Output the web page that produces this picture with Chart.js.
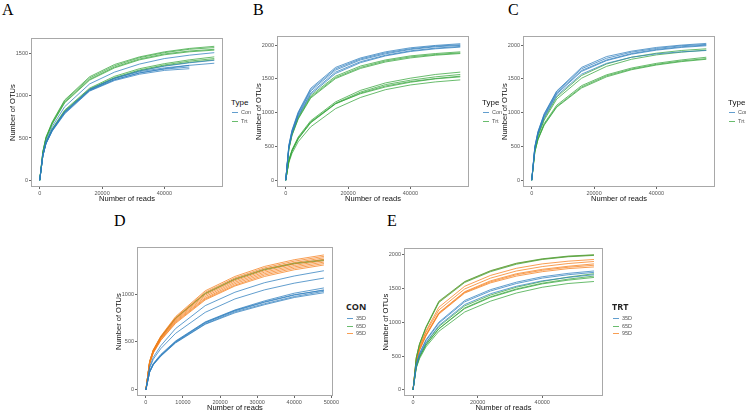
<!DOCTYPE html>
<html>
<head>
<meta charset="utf-8">
<script src="https://cdn.jsdelivr.net/npm/chart.js@4.4.1/dist/chart.umd.min.js"></script>
<style>
  body { margin: 0; background: #fff; }
  #fig { position: relative; width: 746px; height: 413px; overflow: hidden; font-family: "Liberation Sans", Arial, sans-serif; }
  #fig canvas { position: absolute; }
  .tag { position: absolute; font-family: "Liberation Serif", "Times New Roman", serif; font-size: 16px; line-height: 16px; color: #000; }
  .lg { position: absolute; white-space: nowrap; line-height: 8px; }
  .lg-title { font-size: 8px; color: #111; }
  .lg-bold { font-family: "Open Sans", "Liberation Sans", sans-serif; font-weight: bold; font-size: 9px; color: #222; }
  .lg-item { font-size: 5.5px; color: #555; }
  .key { position: absolute; width: 6px; height: 0; border-top: 1px solid; }
</style>
</head>
<body>
<div id="fig"></div>
<script>
// sampling depths of the rarefaction curves
const readDepths = [0, 1000, 2000, 4000, 8000, 16000, 24000, 32000, 40000, 48000, 56000];

// tick labels
const ticksX56 = [0, 20000, 40000];
const ticksX50 = [0, 10000, 20000, 30000, 40000, 50000];
const ticksY1500 = [0, 500, 1000, 1500];
const ticksY2000 = [0, 500, 1000, 1500, 2000];
const ticksY1000 = [0, 500, 1000];

// legend categories
const typeLabels = ['Con', 'Trt'];
const dayLabels = ['35D', '65D', '95D'];

// Panel A
const aCon = [
  [0, 310, 470, 635, 870, 1140, 1280, 1375, 1440, 1480, 1510],
  [0, 290, 435, 590, 800, 1060, 1190, 1270, 1320, 1360, 1385],
  [0, 295, 445, 600, 815, 1075, 1210, 1295, 1350, 1390, 1420],
  [0, 295, 440, 595, 805, 1075, 1205, 1285, 1330, 1360],
  [0, 290, 435, 585, 795, 1065, 1190, 1270, 1315, 1340],
  [0, 285, 430, 580, 785, 1055, 1180, 1255, 1300, 1320]
];
const aTrt = [
  [0, 340, 510, 690, 950, 1225, 1370, 1460, 1520, 1560, 1585],
  [0, 335, 505, 680, 940, 1210, 1355, 1450, 1510, 1550, 1570],
  [0, 330, 495, 670, 925, 1195, 1340, 1435, 1495, 1530, 1550],
  [0, 325, 490, 665, 915, 1185, 1330, 1425, 1485, 1520, 1540],
  [0, 300, 450, 610, 830, 1090, 1230, 1320, 1380, 1425, 1460],
  [0, 295, 445, 600, 820, 1080, 1215, 1305, 1365, 1410, 1440],
  [0, 290, 440, 595, 810, 1070, 1205, 1295, 1355, 1395, 1425]
];

// Panel B
const bCon = [
  [0, 520, 740, 1010, 1360, 1670, 1810, 1900, 1960, 1995, 2020],
  [0, 510, 730, 995, 1340, 1650, 1795, 1885, 1945, 1985, 2005],
  [0, 500, 720, 980, 1320, 1630, 1780, 1870, 1935, 1975, 1995],
  [0, 490, 700, 960, 1290, 1600, 1755, 1850, 1915, 1955, 1980],
  [0, 480, 690, 945, 1270, 1580, 1740, 1840, 1905, 1945, 1970]
];
const bTrt = [
  [0, 470, 680, 930, 1250, 1540, 1690, 1780, 1840, 1875, 1900],
  [0, 460, 670, 915, 1230, 1520, 1670, 1765, 1825, 1860, 1885],
  [0, 455, 660, 905, 1215, 1505, 1655, 1750, 1810, 1850, 1875],
  [0, 300, 450, 640, 880, 1160, 1330, 1440, 1510, 1565, 1600],
  [0, 290, 440, 625, 865, 1140, 1305, 1415, 1480, 1530, 1565],
  [0, 285, 432, 615, 855, 1135, 1280, 1380, 1450, 1500, 1530],
  [0, 280, 425, 610, 850, 1130, 1290, 1395, 1460, 1505, 1540],
  [0, 260, 395, 570, 790, 1060, 1225, 1340, 1410, 1455, 1485]
];

// Panel C
const cCon = [
  [0, 500, 720, 985, 1320, 1670, 1830, 1910, 1965, 2000, 2025],
  [0, 495, 715, 975, 1310, 1650, 1805, 1895, 1950, 1990, 2010],
  [0, 485, 700, 960, 1290, 1625, 1780, 1875, 1935, 1975, 2000],
  [0, 480, 690, 945, 1275, 1610, 1770, 1865, 1925, 1965, 1990],
  [0, 470, 680, 930, 1250, 1570, 1730, 1820, 1870, 1900, 1920]
];
const cTrt = [
  [0, 460, 665, 910, 1230, 1550, 1720, 1820, 1880, 1920, 1945],
  [0, 450, 650, 890, 1200, 1510, 1685, 1790, 1855, 1895, 1925],
  [0, 430, 615, 840, 1110, 1400, 1560, 1660, 1730, 1780, 1820],
  [0, 420, 605, 825, 1090, 1380, 1545, 1645, 1715, 1765, 1800],
  [0, 415, 600, 815, 1080, 1365, 1530, 1635, 1705, 1755, 1790]
];

// Panel D (CON)
const d35 = [
  [0, 240, 340, 460, 640, 880, 1020, 1120, 1190, 1245],
  [0, 225, 320, 430, 590, 810, 950, 1045, 1115, 1168],
  [0, 195, 275, 370, 510, 710, 835, 930, 1010, 1065],
  [0, 190, 270, 362, 500, 700, 825, 915, 990, 1045],
  [0, 188, 268, 358, 505, 705, 830, 920, 995, 1040],
  [0, 185, 265, 355, 495, 690, 815, 900, 975, 1030],
  [0, 182, 260, 350, 490, 685, 805, 890, 965, 1015]
];
const d65 = [
  [0, 290, 412, 552, 750, 1010, 1160, 1262, 1325, 1360],
  [0, 288, 410, 548, 745, 1003, 1152, 1255, 1318, 1352]
];
const d95 = [
  [0, 300, 420, 560, 765, 1035, 1185, 1290, 1360, 1410],
  [0, 295, 415, 555, 755, 1020, 1170, 1275, 1345, 1395],
  [0, 290, 410, 550, 745, 1005, 1155, 1260, 1330, 1380],
  [0, 285, 405, 540, 735, 990, 1140, 1245, 1315, 1365],
  [0, 280, 400, 535, 725, 975, 1125, 1230, 1300, 1350],
  [0, 278, 395, 530, 715, 960, 1110, 1215, 1285, 1335],
  [0, 275, 390, 520, 705, 950, 1095, 1200, 1270, 1320],
  [0, 270, 385, 515, 695, 940, 1085, 1185, 1255, 1305]
];

// Panel E (TRT)
const e35 = [
  [0, 380, 540, 740, 1000, 1320, 1480, 1590, 1670, 1720, 1755],
  [0, 370, 530, 725, 985, 1300, 1460, 1570, 1650, 1700, 1735],
  [0, 355, 505, 695, 950, 1260, 1420, 1530, 1610, 1660, 1700]
];
const e65 = [
  [0, 480, 680, 930, 1310, 1600, 1760, 1870, 1935, 1975, 1995],
  [0, 470, 670, 915, 1290, 1585, 1745, 1855, 1925, 1965, 1985],
  [0, 350, 500, 685, 935, 1240, 1400, 1515, 1600, 1665, 1715],
  [0, 340, 485, 665, 905, 1210, 1375, 1490, 1575, 1635, 1680],
  [0, 335, 480, 660, 900, 1200, 1365, 1480, 1565, 1620, 1660],
  [0, 320, 460, 635, 865, 1150, 1310, 1430, 1515, 1570, 1600]
];
const e95 = [
  [0, 470, 675, 920, 1300, 1595, 1755, 1865, 1930, 1970, 1990],
  [0, 450, 640, 870, 1220, 1530, 1690, 1795, 1860, 1900, 1925],
  [0, 440, 625, 850, 1180, 1490, 1650, 1755, 1820, 1865, 1895],
  [0, 420, 600, 815, 1140, 1450, 1610, 1715, 1780, 1825, 1860],
  [0, 415, 592, 805, 1130, 1440, 1595, 1700, 1765, 1810, 1840],
  [0, 410, 585, 795, 1120, 1430, 1580, 1680, 1745, 1790, 1815]
];

const BLUE = 'rgba(45, 125, 190, 0.75)';
const GREEN = 'rgba(55, 165, 60, 0.75)';
const ORANGE = 'rgba(245, 125, 25, 0.75)';
const FONT = '"Liberation Sans", Arial, sans-serif';
const YW = 26, XH = 16;

const fig = document.getElementById('fig');

const boxPlugin = {
  id: 'box',
  afterDatasetsDraw(chart) {
    const { ctx, chartArea: a } = chart;
    ctx.save();
    ctx.strokeStyle = '#a8a8a8';
    ctx.lineWidth = 1;
    ctx.strokeRect(Math.round(a.left) + 0.5, Math.round(a.top) + 0.5,
      Math.round(a.right - a.left) - 1, Math.round(a.bottom - a.top) - 1);
    ctx.restore();
  }
};

function toPoints(ys) {
  return ys.map((y, i) => ({ x: readDepths[i], y: y }));
}

function groupSets(lines, color) {
  return lines.map(ys => ({
    data: toPoints(ys),
    borderColor: color,
    borderWidth: 1,
    pointRadius: 0,
    tension: 0,
    fill: false
  }));
}

function axis(isX, min, max, ticks) {
  return {
    type: 'linear',
    min: min,
    max: max,
    afterBuildTicks: s => { s.ticks = ticks.map(v => ({ value: v })); },
    afterFit: s => { if (isX) s.height = XH; else s.width = YW; },
    grid: { display: true, drawOnChartArea: false, drawTicks: true, tickLength: 2, color: '#666' },
    border: { display: false },
    ticks: {
      font: { size: 5.5, family: FONT },
      color: '#555',
      padding: 1,
      maxRotation: 0,
      autoSkip: false,
      callback: v => String(v)
    },
    title: {
      display: true,
      text: isX ? 'Number of reads' : 'Number of OTUs',
      font: { size: 7.5, family: FONT, lineHeight: 1.2 },
      color: '#111',
      padding: isX ? { top: 0, bottom: 0 } : { top: 3.5, bottom: 0 }
    }
  };
}

function makePanel(box, datasets, xr, yr) {
  const c = document.createElement('canvas');
  const w = box.r - box.l + YW + 2;
  const h = box.b - box.t + XH + 2;
  c.width = w; c.height = h;
  c.style.left = (box.l - YW) + 'px';
  c.style.top = (box.t - 2) + 'px';
  c.style.width = w + 'px';
  c.style.height = h + 'px';
  fig.appendChild(c);
  new Chart(c, {
    type: 'line',
    data: { datasets: datasets },
    options: {
      responsive: false,
      animation: false,
      devicePixelRatio: 1,
      layout: { padding: { top: 2, right: 2, left: 0, bottom: 0 } },
      plugins: { legend: { display: false }, tooltip: { enabled: false } },
      scales: {
        x: axis(true, xr[0], xr[1], xr[2]),
        y: axis(false, yr[0], yr[1], yr[2])
      }
    },
    plugins: [boxPlugin]
  });
}

function addTag(text, x, y) {
  const d = document.createElement('div');
  d.className = 'tag';
  d.textContent = text;
  d.style.left = x + 'px';
  d.style.top = y + 'px';
  fig.appendChild(d);
}

function addLegend(x, y, title, bold, names, colors, firstGap, step) {
  const t = document.createElement('div');
  t.className = 'lg ' + (bold ? 'lg-bold' : 'lg-title');
  t.textContent = title;
  t.style.left = x + 'px';
  t.style.top = (y - 5) + 'px';
  t.style.lineHeight = '10px';
  fig.appendChild(t);
  names.forEach((n, i) => {
    const cy = y + firstGap + i * step;
    const k = document.createElement('div');
    k.className = 'key';
    k.style.borderTopColor = colors[i];
    k.style.left = (x + 1) + 'px';
    k.style.top = Math.round(cy) + 'px';
    fig.appendChild(k);
    const s = document.createElement('div');
    s.className = 'lg lg-item';
    s.textContent = n;
    s.style.left = (x + 10) + 'px';
    s.style.top = (cy - 4) + 'px';
    fig.appendChild(s);
  });
}

makePanel({ l: 31, t: 36, r: 223, b: 187 },
  [...groupSets(aCon, BLUE), ...groupSets(aTrt, GREEN)],
  [-2800, 58800, ticksX56], [-80, 1680, ticksY1500]);
makePanel({ l: 277, t: 34, r: 469, b: 187 },
  [...groupSets(bCon, BLUE), ...groupSets(bTrt, GREEN)],
  [-2800, 58800, ticksX56], [-100, 2130, ticksY2000]);
makePanel({ l: 523, t: 34, r: 715, b: 187 },
  [...groupSets(cCon, BLUE), ...groupSets(cTrt, GREEN)],
  [-2800, 58800, ticksX56], [-100, 2130, ticksY2000]);
makePanel({ l: 137, t: 245, r: 338, b: 396 },
  [...groupSets(d35, BLUE), ...groupSets(d95, ORANGE), ...groupSets(d65, GREEN)],
  [-2400, 50400, ticksX50], [-65, 1490, ticksY1000]);
makePanel({ l: 404, t: 246, r: 603, b: 396 },
  [...groupSets(e35, BLUE), ...groupSets(e65, GREEN), ...groupSets(e95, ORANGE)],
  [-2800, 58800, ticksX56], [-90, 2090, ticksY2000]);

addTag('A', 2, 2);
addTag('B', 253, 2);
addTag('C', 508, 2);
addTag('D', 114, 213);
addTag('E', 387, 213);

addLegend(231, 103, 'Type', false, typeLabels, [BLUE, GREEN], 9, 9);
addLegend(482, 103, 'Type', false, typeLabels, [BLUE, GREEN], 9, 9);
addLegend(728, 103, 'Type', false, typeLabels, [BLUE, GREEN], 9, 9);
addLegend(346, 307, 'CON', true, dayLabels, [BLUE, GREEN, ORANGE], 11, 7.5);
addLegend(612, 307, 'TRT', true, dayLabels, [BLUE, GREEN, ORANGE], 11, 7.5);
</script>
</body>
</html>
